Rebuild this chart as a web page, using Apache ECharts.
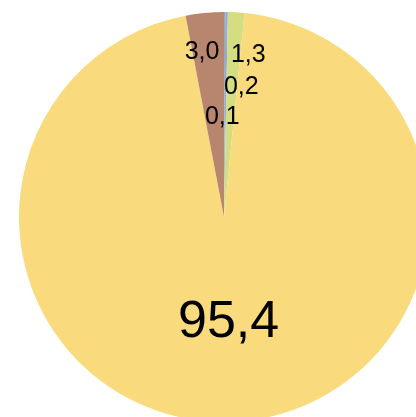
<!DOCTYPE html>
<html>
<head>
<meta charset="utf-8">
<script src="https://cdn.jsdelivr.net/npm/echarts@6/dist/echarts.min.js"></script>
<style>
  html, body { margin: 0; padding: 0; background: #fff; }
  #chart { width: 416px; height: 417px; }
</style>
</head>
<body>
<div id="chart"></div>
<script>
// shares in percent, clockwise from 12 o'clock
const names = ['A', 'B', 'C', 'D', 'E']
const values = [0.1, 0.2, 1.3, 95.4, 3.0]
const labels = ['0,1', '0,2', '1,3', '95,4', '3,0']
const colors = ['#A5A5A5', '#8FAADC', '#D4DD7F', '#F9DA7C', '#B8866F']
// label nudges so the small ones do not overlap
const labelOffsets = [[-2, 6], [16, -24], [18, -57], [0, 0], [-12, -60]]
const labelSizes = [25, 25, 25, 52, 25]

const chart = echarts.init(document.getElementById('chart'), null, { renderer: 'canvas' })

let data = []
for (let i = 0; i < values.length; ++i) {
  data.push({
    name: names[i],
    value: values[i],
    itemStyle: { color: colors[i] },
    label: {
      formatter: labels[i],
      offset: labelOffsets[i],
      fontSize: labelSizes[i]
    }
  })
}

chart.setOption({
  animation: false,
  series: [{
    type: 'pie',
    center: [224, 217],
    radius: 205,
    startAngle: 90,
    clockwise: true,
    minAngle: 0,
    avoidLabelOverlap: false,
    itemStyle: { borderWidth: 0 },
    label: {
      show: true,
      position: 'inside',
      color: '#000',
      fontFamily: 'Liberation Sans, Arial, sans-serif'
    },
    labelLine: { show: false },
    emphasis: { disabled: true },
    data: data
  }]
})
</script>
</body>
</html>
